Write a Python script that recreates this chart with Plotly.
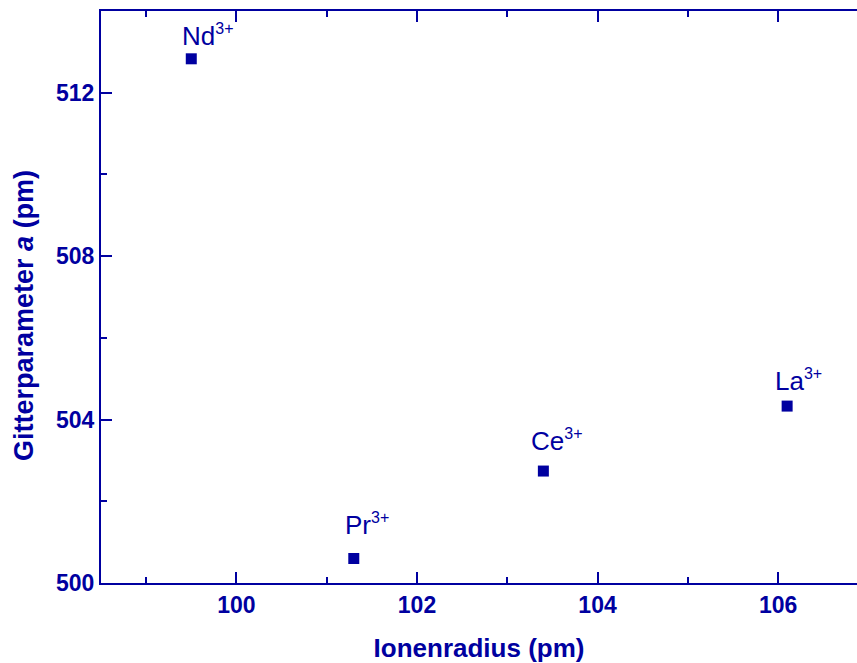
import plotly.graph_objects as go

ions = ["Nd", "Pr", "Ce", "La"]
radius_pm = [99.5, 101.3, 103.4, 106.1]
lattice_a_pm = [512.83, 500.60, 502.74, 504.33]

x_ticks = [100, 102, 104, 106]
y_ticks = [500, 504, 508, 512]

# label offsets in pixels (left edge / baseline relative to marker)
label_dx = [-11, -11, -14, -14]
label_dy = [6, 16, 13, 8]

BLUE = "#0000A0"
FONT = "Arial, Liberation Sans, sans-serif"

fig = go.Figure()
fig.add_trace(go.Scatter(
    x=radius_pm, y=lattice_a_pm, mode="markers",
    marker=dict(symbol="square", size=11, color=BLUE, line=dict(width=0)),
    showlegend=False,
))

for ion, xv, yv, dx, dy in zip(ions, radius_pm, lattice_a_pm, label_dx, label_dy):
    fig.add_annotation(
        x=xv, y=yv,
        text=f"{ion}<sup><span style='font-size:16px'>3+</span></sup>",
        showarrow=False,
        xanchor="left", yanchor="bottom", xshift=dx, yshift=dy,
        font=dict(family=FONT, size=26, color=BLUE),
    )

fig.add_annotation(
    xref="paper", yref="paper", x=(24 - 101) / 756, y=(583 - 316) / 572,
    xanchor="center", yanchor="middle", textangle=-90, showarrow=False,
    text="Gitterparameter <i>a</i> (pm)",
    font=dict(family=FONT, size=27, color=BLUE, weight="bold"),
)

axis_common = dict(
    showline=True, linecolor=BLUE, linewidth=2,
    ticks="inside", tickcolor=BLUE, tickwidth=2, ticklen=11,
    showgrid=False, zeroline=False,
    tickfont=dict(family=FONT, size=23, color=BLUE, weight="bold"),
)

fig.update_xaxes(
    **axis_common,
    range=[98.5, 98.5 + 756 / 90.28],
    tickvals=x_ticks,
    mirror="ticks",
    minor=dict(ticks="inside", dtick=1, tick0=99, ticklen=6, tickwidth=2, tickcolor=BLUE),
    title=dict(text="Ionenradius (pm)", standoff=22,
               font=dict(family=FONT, size=26, color=BLUE, weight="bold")),
)
fig.update_yaxes(
    **axis_common,
    range=[500, 514],
    tickvals=y_ticks,
    mirror=False,
    minor=dict(ticks="inside", dtick=2, tick0=502, ticklen=6, tickwidth=2, tickcolor=BLUE),
)

fig.update_layout(
    width=857, height=663,
    margin=dict(l=101, r=0, t=11, b=80),
    plot_bgcolor="white", paper_bgcolor="white",
)

fig.write_html("out.html")
